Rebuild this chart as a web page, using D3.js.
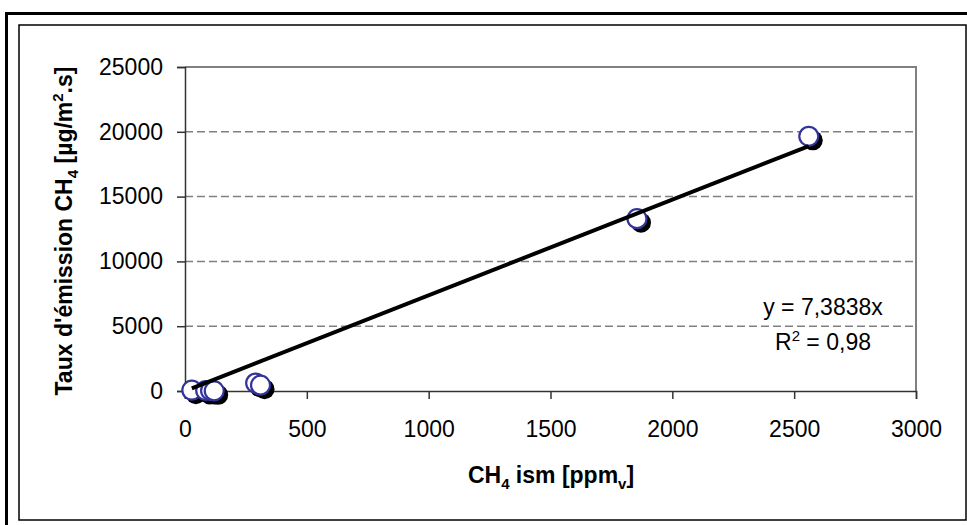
<!DOCTYPE html>
<html lang="fr">
<head>
<meta charset="UTF-8" />
<title>Taux d'émission CH4</title>
<script src="https://d3js.org/d3.v7.min.js"></script>
<style>
  body { margin: 0; padding: 0; background: #fff; }
  svg { display: block; font-family: "Liberation Sans", Arial, sans-serif; }
  .tick text { font-size: 23px; fill: #000; }
  .axis-title { font-size: 23px; font-weight: bold; }
</style>
</head>
<body>
<svg width="967" height="525"></svg>
<script>
  // measured points (CH4 ism in ppmv, emission rate in µg/m².s)
  const xValues = [28, 85, 105, 120, 290, 310, 1855, 2560];
  const yValues = [60, 40, 30, 10, 610, 450, 13300, 19650];
  const slope = 7.3838;
  const rSquared = "0,98";
  const xTicks = [0, 500, 1000, 1500, 2000, 2500, 3000];
  const yTicks = [0, 5000, 10000, 15000, 20000, 25000];

  const svg = d3.select("svg");
  const plot = { left: 185, right: 916, top: 67, bottom: 391 };

  const x = d3.scaleLinear().domain([0, 3000]).range([plot.left, plot.right]);
  const y = d3.scaleLinear().domain([0, 25000]).range([plot.bottom, plot.top]);

  // frames
  svg.append("rect")
    .attr("x", 6.5).attr("y", 13.5).attr("width", 980).attr("height", 540)
    .attr("fill", "none").attr("stroke", "#000").attr("stroke-width", 3);
  svg.append("rect")
    .attr("x", 19).attr("y", 25).attr("width", 947).attr("height", 495)
    .attr("fill", "#fff").attr("stroke", "#000").attr("stroke-width", 1.5);

  // gridlines
  svg.append("g")
    .selectAll("line")
    .data(yTicks.filter((d) => d > 0 && d < 25000))
    .enter()
    .append("line")
    .attr("x1", plot.left).attr("x2", plot.right)
    .attr("y1", (d) => y(d)).attr("y2", (d) => y(d))
    .attr("stroke", "#808080").attr("stroke-width", 1.5)
    .attr("stroke-dasharray", "8,4");

  // plot border (top and right)
  svg.append("path")
    .attr("d", `M${plot.left},${plot.top}H${plot.right}V${plot.bottom}`)
    .attr("fill", "none").attr("stroke", "#808080").attr("stroke-width", 2);

  // axes
  const xAxis = svg.append("g")
    .attr("transform", `translate(0,${plot.bottom})`)
    .call(d3.axisBottom(x).tickValues(xTicks).tickSize(8).tickPadding(22).tickFormat(d3.format("d")));
  const yAxis = svg.append("g")
    .attr("transform", `translate(${plot.left},0)`)
    .call(d3.axisLeft(y).tickValues(yTicks).tickSize(8).tickPadding(14).tickFormat(d3.format("d")));
  [xAxis, yAxis].forEach((a) => {
    a.select(".domain").attr("stroke", "#333").attr("stroke-width", 1.5);
    a.selectAll(".tick line").attr("stroke", "#333").attr("stroke-width", 1.5);
    a.attr("font-family", null).attr("font-size", null);
  });

  const points = xValues.map((v, i) => ({ x: v, y: yValues[i] }));

  // shadows then open circles
  svg.append("g")
    .selectAll("circle")
    .data(points)
    .enter()
    .append("circle")
    .attr("cx", (d) => x(d.x) + 4)
    .attr("cy", (d) => y(d.y) + 4)
    .attr("r", 10)
    .attr("fill", "#000");
  svg.append("g")
    .selectAll("circle")
    .data(points)
    .enter()
    .append("circle")
    .attr("cx", (d) => x(d.x))
    .attr("cy", (d) => y(d.y))
    .attr("r", 9.5)
    .attr("fill", "#fff")
    .attr("stroke", "#333399")
    .attr("stroke-width", 2.2);

  // linear trendline through origin
  const xMin = d3.min(xValues);
  const xMax = d3.max(xValues);
  svg.append("line")
    .attr("x1", x(xMin)).attr("y1", y(slope * xMin))
    .attr("x2", x(xMax)).attr("y2", y(slope * xMax))
    .attr("stroke", "#000").attr("stroke-width", 4);

  // equation
  svg.append("text")
    .attr("x", 823).attr("y", 315)
    .attr("text-anchor", "middle").style("font-size", "23px")
    .text("y = " + String(slope).replace(".", ",") + "x");
  const r2 = svg.append("text")
    .attr("x", 823).attr("y", 350)
    .attr("text-anchor", "middle").style("font-size", "23px");
  r2.append("tspan").text("R");
  r2.append("tspan").attr("dy", -9).style("font-size", "15px").text("2");
  r2.append("tspan").attr("dy", 9).text(" = " + rSquared);

  // axis titles
  const xt = svg.append("text")
    .attr("class", "axis-title")
    .attr("x", 551).attr("y", 483)
    .attr("text-anchor", "middle");
  xt.append("tspan").text("CH");
  xt.append("tspan").attr("dy", 6).style("font-size", "15px").text("4");
  xt.append("tspan").attr("dy", -6).text(" ism [ppm");
  xt.append("tspan").attr("dy", 6).style("font-size", "15px").text("v");
  xt.append("tspan").attr("dy", -6).text("]");

  const yt = svg.append("text")
    .attr("class", "axis-title")
    .attr("transform", "translate(72,231) rotate(-90)")
    .attr("text-anchor", "middle");
  yt.append("tspan").text("Taux d'émission CH");
  yt.append("tspan").attr("dy", 6).style("font-size", "15px").text("4");
  yt.append("tspan").attr("dy", -6).text(" [µg/m");
  yt.append("tspan").attr("dy", -9).style("font-size", "15px").text("2");
  yt.append("tspan").attr("dy", 9).text(".s]");
</script>
</body>
</html>
